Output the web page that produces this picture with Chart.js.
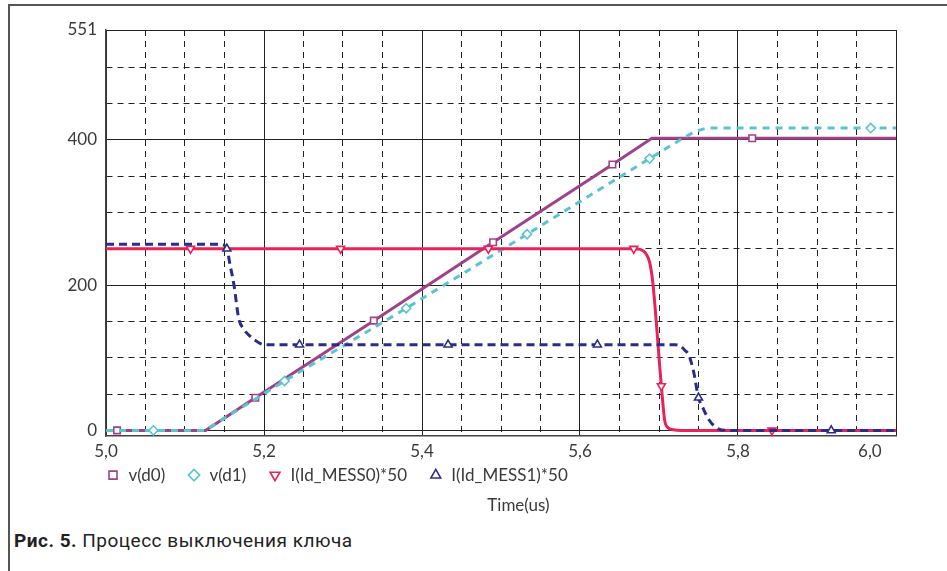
<!DOCTYPE html>
<html>
<head>
<meta charset="utf-8">
<script src="https://cdn.jsdelivr.net/npm/chart.js@4.4.1/dist/chart.umd.min.js"></script>
<style>
  html, body { margin: 0; padding: 0; background: #fff; }
  body { width: 947px; height: 571px; position: relative; overflow: hidden; }
  .frame { position: absolute; left: 8px; top: 4px; right: -10px; bottom: -10px;
           border-left: 2px solid #555; border-top: 2px solid #555; }
  .plot { position: absolute; left: 0; top: 0; width: 947px; height: 520px; }
  .caption { position: absolute; left: 14px; top: 529px; color: #222; letter-spacing: 0.5px;
             font: 19px "Liberation Sans Narrow", "Roboto", sans-serif; }
  .caption b { font-weight: bold; }
</style>
</head>
<body>
<div class="frame"></div>
<div class="plot"><canvas id="chart"></canvas></div>
<div class="caption"><b>Рис. 5.</b> Процесс выключения ключа</div>
<script>
// time axis in us
const timeD0 = [5.0, 5.014, 5.126, 5.189, 5.339, 5.49, 5.641, 5.691, 5.818, 6.0];
const voltD0 = [0, 0, 0, 45, 151, 259, 366, 402, 402, 402];
const marksD0 = [1, 3, 4, 5, 6, 8];

const timeD1 = [5.0, 5.06, 5.125, 5.226, 5.38, 5.533, 5.688, 5.727, 5.745, 5.76, 5.968, 6.0];
const voltD1 = [0, 0, 0, 68, 168, 270, 374, 400, 411, 416, 416, 416];
const marksD1 = [1, 3, 4, 5, 6, 10];

const timeI0 = [5.0, 5.107, 5.297, 5.484, 5.668, 5.676, 5.683, 5.688, 5.692, 5.703, 5.707, 5.711, 5.718, 5.728, 5.843, 6.0];
const currI0 = [250, 250, 250, 250, 250, 249, 244, 232, 205, 61, 15, 4, 1, 0, 0, 0];
const marksI0 = [1, 2, 3, 4, 9, 14];

const timeI1 = [5.0, 5.145, 5.153, 5.157, 5.162, 5.168, 5.174, 5.183, 5.193, 5.2, 5.245, 5.433, 5.622,
                5.72, 5.727, 5.733, 5.738, 5.744, 5.75, 5.756, 5.763, 5.775, 5.786, 5.918, 6.0];
const currI1 = [256, 256, 250, 228, 200, 154, 140, 129, 121, 118, 118, 118, 118,
                118, 116, 110, 103, 80, 45, 30, 15, 2, 0, 0, 0];
const marksI1 = [2, 10, 11, 12, 18, 23];

const seriesNames = ["v(d0)", "v(d1)", "I(Id_MESS0)*50", "I(Id_MESS1)*50"];
const axisTitle = "Time(us)";

const yGrid = [0, 50, 100, 150, 200, 250, 300, 350, 400, 450, 500, 551];
const yLabels = [0, 200, 400, 551];

const FONT = { family: "Lato, 'Noto Sans', sans-serif", size: 17 };
const TEXT = "#3a3a3a";
const GRID = "#222";
const DASH = [6, 5];
const GAP = "     ";

function toPoints(xs, ys) {
    return xs.map((x, i) => ({ x, y: ys[i] }));
}

function markRadius(marks) {
    return ctx => marks.includes(ctx.dataIndex) ? 4.6 : 0;
}

function isMajorX(v) {
    return Math.round(v * 100) % 20 === 0;
}

function makeSeries(label, xs, ys, marks, color, style, extra) {
    return Object.assign({
        label,
        data: toPoints(xs, ys),
        borderColor: color,
        borderWidth: 3,
        pointStyle: style,
        pointRadius: markRadius(marks),
        pointHoverRadius: markRadius(marks),
        pointBackgroundColor: "#fff",
        pointBorderColor: color,
        pointBorderWidth: 1.6,
        fill: false,
        tension: 0
    }, extra || {});
}

const datasets = [
    makeSeries(seriesNames[0], timeD0, voltD0, marksD0, "#a0428a", "rect", { order: 4 }),
    makeSeries(seriesNames[1], timeD1, voltD1, marksD1, "#5ac5cf", "rectRot", { order: 3, borderDash: [7, 6] }),
    makeSeries(seriesNames[2], timeI0, currI0, marksI0, "#e8235a", "triangle",
        { order: 2, pointRotation: 180, cubicInterpolationMode: "monotone" }),
    makeSeries(seriesNames[3], timeI1, currI1, marksI1, "#2b2b8c", "triangle",
        { order: 1, borderDash: [8, 5], cubicInterpolationMode: "monotone" })
];

new Chart(document.getElementById("chart"), {
    type: "line",
    data: { datasets },
    options: {
        responsive: true,
        maintainAspectRatio: false,
        animation: false,
        layout: { padding: { left: 66, right: 51, top: 30, bottom: 0 } },
        scales: {
            x: {
                type: "linear",
                min: 5.0,
                max: 6.0,
                ticks: {
                    stepSize: 0.05,
                    autoSkip: false,
                    maxRotation: 0,
                    padding: 5,
                    font: FONT,
                    color: TEXT,
                    callback: (v, i, ticks) => {
                        if (!isMajorX(v)) return "";
                        const s = v.toFixed(1).replace(".", ",");
                        return i === ticks.length - 1 ? s + "            " : s;
                    }
                },
                grid: { color: GRID, lineWidth: 1, drawTicks: false },
                border: {
                    color: "#444",
                    width: 1.5,
                    dash: ctx => (ctx.tick && !isMajorX(ctx.tick.value)) ? DASH : []
                }
            },
            y: {
                min: -8,
                max: 551,
                afterBuildTicks: scale => {
                    scale.ticks = yGrid.map(v => ({ value: v }));
                },
                afterFit: scale => {
                    scale.width = 40;
                },
                ticks: {
                    autoSkip: false,
                    padding: 9,
                    font: FONT,
                    color: TEXT,
                    callback: v => yLabels.includes(v) ? String(v) : ""
                },
                grid: { color: GRID, lineWidth: 1, drawTicks: false },
                border: {
                    color: "#444",
                    width: 1.5,
                    dash: ctx => (ctx.tick && !yLabels.includes(ctx.tick.value)) ? DASH : []
                }
            }
        },
        plugins: {
            legend: {
                position: "bottom",
                align: "start",
                fullSize: false,
                labels: {
                    usePointStyle: true,
                    boxWidth: 14,
                    boxHeight: 8,
                    padding: 0,
                    font: FONT,
                    color: TEXT,
                    sort: (a, b) => a.datasetIndex - b.datasetIndex,
                    generateLabels: chart =>
                        Chart.defaults.plugins.legend.labels.generateLabels(chart)
                            .map(item => Object.assign(item, { text: item.text + GAP }))
                }
            },
            title: {
                display: true,
                text: "        " + axisTitle,
                position: "bottom",
                fullSize: false,
                font: Object.assign({}, FONT, { weight: "normal" }),
                color: TEXT,
                padding: { top: 2, bottom: 4 }
            },
            tooltip: { enabled: false }
        }
    }
});
</script>
</body>
</html>
